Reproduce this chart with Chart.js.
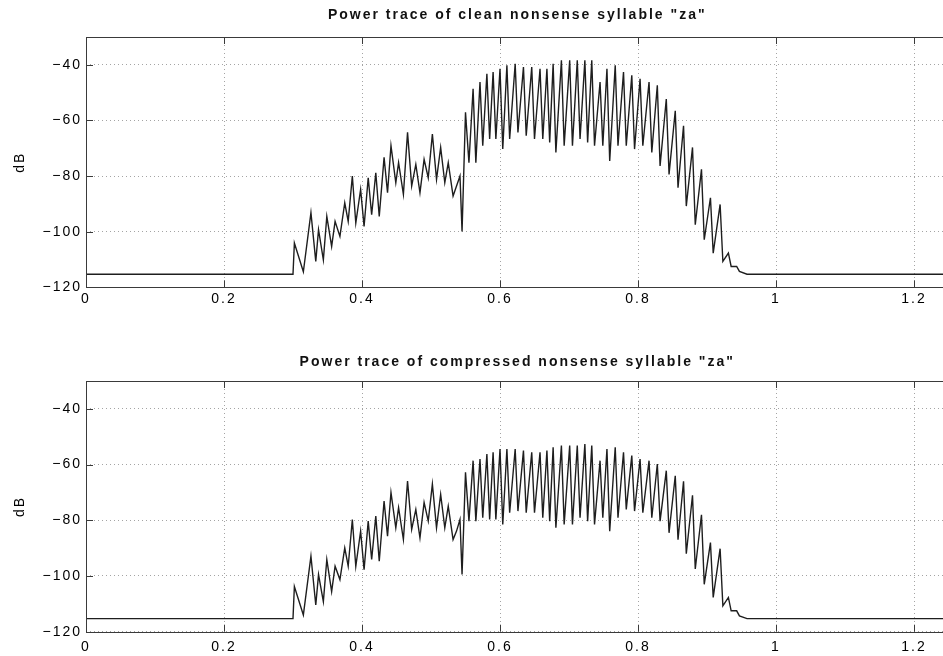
<!DOCTYPE html>
<html>
<head>
<meta charset="utf-8">
<script src="https://cdn.jsdelivr.net/npm/chart.js@4/dist/chart.umd.min.js"></script>
<style>
  html, body { margin: 0; padding: 0; background: #fff; overflow: hidden; width: 943px; height: 656px; }
  .panel { position: absolute; left: 0; width: 962px; }
  #p1 { top: 0; height: 316px; }
  #p2 { top: 316px; height: 340px; }
</style>
</head>
<body>
<div class="panel" id="p1"><canvas id="c1"></canvas></div>
<div class="panel" id="p2"><canvas id="c2"></canvas></div>
<script>
// Time axis (seconds): silence, fricative onset, then one peak/trough pair per pitch period
const timeSec = [
  0, 0.300, 0.302, 0.315, 0.326, 0.333, 0.337, 0.344, 0.349, 0.356,
  0.361, 0.368, 0.375, 0.380, 0.386, 0.391, 0.398, 0.403, 0.409, 0.414,
  0.420, 0.425, 0.432, 0.437, 0.442, 0.449, 0.453, 0.460, 0.466, 0.472,
  0.478, 0.484, 0.490, 0.496, 0.502, 0.508, 0.514, 0.520, 0.525, 0.532,
  0.537, 0.542, 0.545, 0.550, 0.555,
  0.561, 0.565, 0.571, 0.575, 0.581, 0.585, 0.590, 0.594, 0.600, 0.604,
  0.610, 0.614, 0.622, 0.626, 0.634, 0.638, 0.646, 0.650, 0.658, 0.662,
  0.668, 0.672, 0.677, 0.681, 0.689, 0.693, 0.701, 0.705, 0.712, 0.716,
  0.723, 0.727, 0.733, 0.737, 0.745, 0.749, 0.755, 0.759, 0.767, 0.771,
  0.779, 0.783, 0.791, 0.795, 0.803, 0.807, 0.816, 0.820, 0.828, 0.832,
  0.841, 0.845, 0.854, 0.858, 0.866, 0.870, 0.879, 0.883, 0.892, 0.896,
  0.905, 0.909, 0.919, 0.923, 0.931, 0.935, 0.943, 0.947,
  0.958, 1.25
];

// Power of the clean syllable (dB)
const cleanDb = [
  -115.3, -115.3, -104.1, -114.4, -93.2, -110.7, -99.3, -110.1, -94.5, -105.3,
  -96.3, -101.7, -89.6, -96.3, -80.0, -96.9, -84.8, -98.1, -80.6, -93.9,
  -78.8, -94.5, -73.3, -86.0, -69.1, -82.4, -75.2, -86.6, -64.3, -83.6,
  -75.8, -86.0, -74.0, -80.6, -64.9, -81.2, -69.7, -82.4, -75.2, -87.2,
  -83.6, -80.0, -99.9, -57.1, -75.2,
  -48.6, -75.2, -46.2, -69.1, -43.2, -66.7, -42.6, -66.7, -41.4, -70.3,
  -40.2, -66.7, -39.6, -64.3, -40.8, -65.5, -40.8, -66.7, -41.4, -66.7,
  -41.4, -67.9, -39.6, -71.5, -38.4, -69.1, -38.4, -69.1, -38.4, -66.7,
  -38.4, -67.9, -38.4, -69.1, -46.2, -69.1, -41.4, -74.6, -40.2, -69.1,
  -42.6, -69.1, -43.8, -70.3, -45.0, -69.1, -46.2, -71.5, -47.4, -76.4,
  -52.3, -79.4, -56.5, -84.2, -61.9, -90.8, -69.7, -97.5, -77.6, -102.9,
  -87.8, -107.7, -90.2, -110.7, -107.7, -112.5, -112.5, -114.3,
  -115.3, -115.3
];

// Power of the compressed syllable (dB)
const compressedDb = [
  -115.3, -115.3, -103.8, -114.0, -92.9, -110.4, -99.5, -109.2, -94.1, -105.6,
  -96.5, -101.3, -89.9, -96.5, -79.7, -96.5, -83.9, -97.7, -80.3, -94.1,
  -78.5, -94.7, -73.1, -85.7, -70.0, -82.7, -75.5, -86.9, -65.9, -83.3,
  -76.1, -86.3, -73.6, -80.3, -67.0, -82.7, -70.7, -82.7, -74.9, -86.9,
  -83.9, -79.7, -99.5, -62.8, -80.3,
  -58.6, -80.3, -58.0, -79.1, -56.2, -79.7, -55.6, -79.7, -54.4, -81.5,
  -54.4, -77.3, -54.4, -76.7, -55.0, -77.3, -55.6, -77.3, -55.6, -79.1,
  -55.0, -80.3, -53.8, -82.7, -53.2, -81.5, -53.2, -81.5, -53.2, -79.1,
  -52.6, -80.3, -53.2, -81.5, -58.6, -79.1, -54.4, -83.9, -53.8, -79.1,
  -55.6, -76.1, -56.8, -76.7, -58.0, -77.3, -58.6, -79.1, -59.8, -80.3,
  -62.2, -84.5, -64.0, -87.0, -66.0, -92.0, -71.0, -97.5, -78.0, -103.0,
  -88.0, -107.7, -90.2, -110.7, -107.7, -112.5, -112.5, -114.3,
  -115.3, -115.3
];

const xTicks = [0, 0.2, 0.4, 0.6, 0.8, 1, 1.2];
const yTicks = [-120, -100, -80, -60, -40];
const xTickLabels = ['0', '0.2', '0.4', '0.6', '0.8', '1', '1.2'];
const yTickLabels = ['\u2212120', '\u2212100', '\u221280', '\u221260', '\u221240'];
const panelTitles = [
  'Power trace of clean nonsense syllable "za"',
  'Power trace of compressed nonsense syllable "za"'
];
const yAxisLabel = 'dB';

const FONT = '"Liberation Sans", Arial, Helvetica, sans-serif';

// Title centred over the plot box, and wide lettering for all labels
const framePlugin = {
  id: 'frame',
  afterLayout(chart) {
    if (chart.titleBlock) {
      chart.titleBlock.left = chart.chartArea.left;
      chart.titleBlock.right = chart.chartArea.right;
    }
  },
  beforeDraw(chart) { chart.ctx.letterSpacing = '2px'; }
};

// Axes box with inward tick marks, drawn over the grid
const boxPlugin = {
  id: 'box',
  afterDatasetsDraw(chart) {
    const { ctx, chartArea: a, scales } = chart;
    ctx.save();
    ctx.strokeStyle = '#3a3a3a';
    ctx.lineWidth = 1;
    ctx.strokeRect(Math.round(a.left) + 0.5, Math.round(a.top) + 0.5,
      Math.round(a.right - a.left), Math.round(a.bottom - a.top));
    const len = 7;
    ctx.beginPath();
    xTicks.forEach(v => {
      const px = Math.round(scales.x.getPixelForValue(v)) + 0.5;
      ctx.moveTo(px, a.bottom); ctx.lineTo(px, a.bottom - len);
      ctx.moveTo(px, a.top); ctx.lineTo(px, a.top + len);
    });
    yTicks.forEach(v => {
      const py = Math.round(scales.y.getPixelForValue(v)) + 0.5;
      ctx.moveTo(a.left, py); ctx.lineTo(a.left + len, py);
    });
    ctx.stroke();
    ctx.restore();
  }
};

function makeChart(canvasId, series, titleText, titlePad, plotBottom, canvasH, xLabelPad) {
  const points = timeSec.map((t, i) => ({ x: t, y: series[i] }));
  return new Chart(document.getElementById(canvasId), {
    type: 'line',
    data: {
      datasets: [{
        data: points,
        borderColor: '#1e1e1e',
        borderWidth: 1.4,
        pointRadius: 0,
        tension: 0,
        fill: false
      }]
    },
    options: {
      responsive: true,
      maintainAspectRatio: false,
      animation: false,
      parsing: false,
      layout: { padding: { left: 0, right: 13.5, top: 0, bottom: 0 } },
      plugins: {
        legend: { display: false },
        tooltip: { enabled: false },
        title: {
          display: true,
          text: titleText,
          color: '#111',
          font: { family: FONT, size: 14, weight: 'bold' },
          padding: titlePad
        }
      },
      scales: {
        x: {
          type: 'linear',
          min: 0,
          max: 1.25,
          afterBuildTicks: s => { s.ticks = xTicks.map(v => ({ value: v })); },
          afterFit: s => { s.height = canvasH - plotBottom; },
          ticks: {
            color: '#000',
            font: { family: FONT, size: 14 },
            padding: xLabelPad,
            maxRotation: 0,
            autoSkip: false,
            callback: (v) => xTickLabels[xTicks.indexOf(v)]
          },
          grid: { color: '#a4a4a4', lineWidth: 1, drawTicks: false },
          border: { display: false, dash: [1, 3] }
        },
        y: {
          type: 'linear',
          min: -120,
          max: -30,
          afterBuildTicks: s => { s.ticks = yTicks.map(v => ({ value: v })); },
          afterFit: s => { s.width = 86; },
          ticks: {
            color: '#000',
            font: { family: FONT, size: 14 },
            padding: 4,
            autoSkip: false,
            callback: (v) => yTickLabels[yTicks.indexOf(v)]
          },
          grid: { color: '#a4a4a4', lineWidth: 1, drawTicks: false },
          border: { display: false, dash: [1, 3] },
          title: {
            display: true,
            text: yAxisLabel,
            color: '#000',
            font: { family: FONT, size: 14 },
            padding: { top: 12, bottom: 0 }
          }
        }
      }
    },
    plugins: [framePlugin, boxPlugin]
  });
}

makeChart('c1', cleanDb, panelTitles[0], { top: 7, bottom: 13.2 }, 287.3, 316, 3.5);
makeChart('c2', compressedDb, panelTitles[1], { top: 38, bottom: 10.2 }, 315.7, 340, 7.5);
</script>
</body>
</html>
